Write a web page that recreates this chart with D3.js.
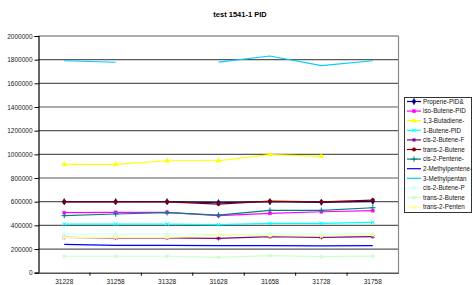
<!DOCTYPE html>
<html>
<head>
<meta charset="utf-8">
<script src="https://cdn.jsdelivr.net/npm/d3@7"></script>
<style>
  body { margin: 0; background: #fff; }
  text { font-family: "Liberation Sans", Arial, sans-serif; }
</style>
</head>
<body>
<script>
const width = 473;
const height = 285;

// categories along the x axis
const categories = ["31228", "31258", "31328", "31628", "31658", "31728", "31758"];
const yTicks = [0, 200000, 400000, 600000, 800000, 1000000, 1200000, 1400000, 1600000, 1800000, 2000000];

const seriesNames = ["Propene-PID&", "iso-Butene-PID", "1,3-Butadiene-", "1-Butene-PID",
  "cis-2-Butene-F", "trans-2-Butene", "cis-2-Pentene-", "2-Methylpentene-",
  "3-Methylpentan", "cis-2-Butene-P", "trans-2-Butene", "trans-2-Penten"];

const propene = [600000, 600000, 600000, 591000, 600000, 595000, 603000];
const isoButene = [507000, 510000, 510000, 482000, 502000, 515000, 524000];
const butadiene = [916000, 916000, 946000, 946000, 997000, 983000, null];
const butene1 = [411000, 411000, 411000, 406000, 417000, 417000, 426000];
const cis2ButeneF = [299000, 293000, 293000, 290000, 304000, 299000, 305000];
const trans2Butene = [598000, 598000, 598000, 580000, 604000, 598000, 614000];
const cis2Pentene = [482000, 496000, 507000, 487000, 527000, 527000, 549000];
const methylpentene = [240000, 231000, 231000, 228000, 228000, 226000, 228000];
const methylpentan = [1791000, 1778000, null, 1780000, 1831000, 1749000, 1791000];
const cis2ButeneP = [327000, 327000, 327000, 322000, 327000, 327000, 330000];
const trans2Butene2 = [139000, 139000, 139000, 130000, 144000, 135000, 140000];
const trans2Penten = [299000, 299000, 299000, 318000, 313000, 310000, 320000];

const seriesValues = [propene, isoButene, butadiene, butene1, cis2ButeneF, trans2Butene,
  cis2Pentene, methylpentene, methylpentan, cis2ButeneP, trans2Butene2, trans2Penten];

const colors = ["#000080", "#ff00ff", "#ffff00", "#00ffff", "#800080", "#800000",
  "#008080", "#0000ff", "#00ccff", "#ccffff", "#ccffcc", "#ffff99"];

// marker per series: [symbol, filled?, size]
const markers = [
  [d3.symbolDiamond, true, 12], [d3.symbolSquare, true, 9], [d3.symbolTriangle, true, 10],
  [d3.symbolTimes, false, 10], [d3.symbolAsterisk, false, 12], [d3.symbolCircle, true, 10],
  [d3.symbolPlus, false, 12], [null, false, 0], [null, false, 0],
  [d3.symbolTriangle, true, 9], [d3.symbolSquare, true, 8], [d3.symbolSquare, true, 8]
];

const series = seriesNames.map((name, i) => ({
  name: name, values: seriesValues[i], color: colors[i], marker: markers[i]
}));

const plot = {left: 38.5, right: 398.5, top: 36, bottom: 272.7};

const svg = d3.select("body").append("svg")
  .attr("width", width)
  .attr("height", height);

const x = d3.scaleBand()
  .domain(categories)
  .range([plot.left, plot.right]);

const y = d3.scaleLinear()
  .domain([0, 2000000])
  .range([plot.bottom, plot.top]);

const cx = c => x(c) + x.bandwidth() / 2;

// title
svg.append("text")
  .attr("x", 240)
  .attr("y", 17)
  .attr("text-anchor", "middle")
  .style("font-size", "7.5px")
  .style("font-weight", "bold")
  .text("test 1541-1 PID");

// gridlines
svg.append("g")
  .selectAll("line")
  .data(yTicks.filter(d => d > 0))
  .enter().append("line")
  .attr("x1", plot.left)
  .attr("x2", plot.right)
  .attr("y1", d => y(d))
  .attr("y2", d => y(d))
  .attr("stroke", "#5a5a5a")
  .attr("stroke-width", 1.2);

// right border of plot area
svg.append("line")
  .attr("x1", plot.right).attr("x2", plot.right)
  .attr("y1", plot.top).attr("y2", plot.bottom)
  .attr("stroke", "#8a8a8a")
  .attr("stroke-width", 1.2);

// y axis
const yAxis = svg.append("g")
  .attr("transform", `translate(${plot.left},0)`)
  .call(d3.axisLeft(y).tickValues(yTicks).tickFormat(d3.format("d")).tickSize(4).tickPadding(2));
yAxis.select(".domain").attr("stroke", "#000").attr("stroke-width", 1.2);
yAxis.selectAll("text").style("font-size", "6.5px").attr("fill", "#222")
  .style("font-family", "'Liberation Sans', Arial, sans-serif");

// x axis
const xAxis = svg.append("g")
  .attr("transform", `translate(0,${plot.bottom})`)
  .call(d3.axisBottom(x).tickSize(0).tickPadding(7));
xAxis.select(".domain").attr("stroke", "#555").attr("stroke-width", 1.6);
xAxis.selectAll("text").style("font-size", "6.5px").attr("fill", "#222")
  .style("font-family", "'Liberation Sans', Arial, sans-serif");
// tick marks between categories
xAxis.append("g")
  .selectAll("line")
  .data(categories.slice(1))
  .enter().append("line")
  .attr("x1", d => x(d)).attr("x2", d => x(d))
  .attr("y1", 0).attr("y2", 3)
  .attr("stroke", "#000");

// lines
const line = d3.line()
  .defined(d => d != null)
  .x((d, i) => cx(categories[i]))
  .y(d => y(d));

const g = svg.append("g");
series.forEach(s => {
  g.append("path")
    .attr("d", line(s.values))
    .attr("fill", "none")
    .attr("stroke", s.color)
    .attr("stroke-width", 1.2);
  const m = s.marker;
  if (m[0]) {
    g.selectAll(null)
      .data(s.values.map((v, i) => ({v: v, c: categories[i]})).filter(d => d.v != null))
      .enter().append("path")
      .attr("transform", d => `translate(${cx(d.c)},${y(d.v)})`)
      .attr("d", d3.symbol().type(m[0]).size(m[2]))
      .attr("fill", m[1] ? s.color : "none")
      .attr("stroke", s.color)
      .attr("stroke-width", m[1] ? 0.5 : 1);
  }
});

// legend
const legend = svg.append("g");
legend.append("rect")
  .attr("x", 404.5).attr("y", 97.5)
  .attr("width", 67).attr("height", 115)
  .attr("fill", "#fff")
  .attr("stroke", "#333")
  .attr("stroke-width", 1);

const rows = legend.selectAll("g.item")
  .data(series)
  .enter().append("g")
  .attr("class", "item")
  .attr("transform", (d, i) => `translate(0,${101.5 + i * 9.6})`);

rows.append("line")
  .attr("x1", 407).attr("x2", 421)
  .attr("y1", 0).attr("y2", 0)
  .attr("stroke", d => d.color)
  .attr("stroke-width", 1.2);

rows.filter(d => d.marker[0]).append("path")
  .attr("transform", "translate(414,0)")
  .attr("d", d => d3.symbol().type(d.marker[0]).size(d.marker[2])())
  .attr("fill", d => d.marker[1] ? d.color : "none")
  .attr("stroke", d => d.color)
  .attr("stroke-width", d => d.marker[1] ? 0.5 : 1);

rows.append("text")
  .attr("x", 423)
  .attr("y", 2.3)
  .style("font-size", "6.3px")
  .attr("fill", "#111")
  .text(d => d.name);
</script>
</body>
</html>
